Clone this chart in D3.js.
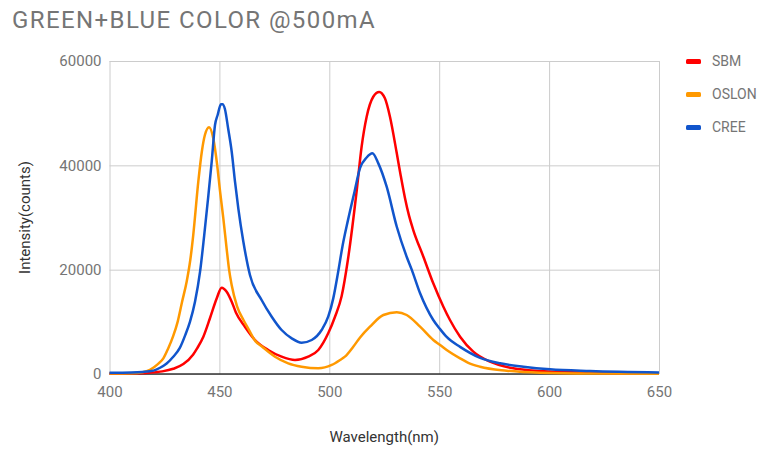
<!DOCTYPE html>
<html>
<head>
<meta charset="utf-8">
<script src="https://cdn.jsdelivr.net/npm/d3@7"></script>
<style>
  html, body { margin: 0; padding: 0; background: #fff; }
  svg { display: block; font-family: Roboto, "Noto Sans", sans-serif; }
</style>
</head>
<body>
<svg id="chart" width="764" height="450"></svg>
<script>
const title = "GREEN+BLUE COLOR @500mA";
const xTicks = [400, 450, 500, 550, 600, 650];
const yTicks = [0, 20000, 40000, 60000];
const seriesNames = ["SBM", "OSLON", "CREE"];
const seriesColors = ["#ff0000", "#ff9900", "#1155cc"];

// SBM (red)
const sbmNm  = [400, 410, 418, 424, 429, 433.6, 438, 440, 442.7, 445.7, 448.8, 451, 453.3, 455.6, 457.5, 461.6, 466.2, 472.2, 478.3, 484.4, 490.4, 495, 499.5, 502.6, 505.6, 508.5, 512.5, 514.7, 517, 520, 522.7, 525.3, 527.6, 530.7, 532.5, 534.4, 536.3, 538.2, 542.8, 547.3, 551.9, 554.9, 559.5, 565.5, 573.1, 583.7, 595.9, 618.6, 650];
const sbmVal = [100, 130, 250, 500, 1000, 1900, 3700, 5000, 7150, 10680, 14510, 16550, 15780, 13860, 11800, 9070, 6520, 4600, 3320, 2680, 3320, 4600, 7800, 10980, 14900, 22000, 35270, 43570, 49320, 53150, 54050, 52840, 49320, 42300, 38000, 33800, 30300, 27600, 22480, 17380, 12900, 10350, 7150, 4280, 2360, 1090, 575, 250, 120];

// OSLON (orange)
const oslonNm  = [400, 410, 415, 418.4, 422, 424.5, 426.6, 429, 431, 433, 435.1, 436.8, 438.1, 440.4, 442, 443.4, 445.3, 447.2, 449, 450.3, 451.8, 453.3, 454.4, 455.6, 458, 461, 463.5, 466, 469.5, 475.3, 481.3, 487.4, 495, 501.1, 504.9, 507.1, 510.9, 514, 518.5, 524.6, 530.7, 535.2, 541.3, 547.3, 550.4, 553.4, 559.5, 563, 568.6, 580.7, 595.9, 620, 650];
const oslonVal = [100, 150, 350, 800, 1900, 3000, 4800, 7300, 10000, 13800, 17700, 22000, 26640, 36860, 42610, 45810, 47290, 45170, 40000, 35000, 29800, 24000, 20000, 17000, 13000, 10300, 8430, 6500, 5230, 3320, 2050, 1400, 1090, 1730, 2680, 3320, 5230, 7000, 9070, 11310, 11820, 11310, 9070, 6520, 5560, 4600, 3000, 2200, 1400, 640, 250, 100, 60];

// CREE (blue)
const creeNm  = [400, 410, 415, 420, 423, 426, 429, 432, 434.5, 436.6, 438.9, 441.2, 443.1, 445, 446.5, 448, 449.2, 450.7, 451.4, 452.5, 454, 455.6, 457.1, 458.6, 460.9, 463.9, 469.2, 473.8, 478.3, 482.9, 487.4, 492, 496.5, 499.5, 501.8, 504, 506, 508.5, 511.5, 514, 517, 519.6, 522.3, 526.1, 530.7, 535.2, 537.5, 541.3, 547.3, 550.4, 553.4, 559.5, 568.6, 577.7, 588.3, 600.4, 618.6, 650];
const creeVal = [250, 300, 400, 650, 1200, 2000, 3300, 5000, 7500, 10000, 13860, 19610, 26640, 34310, 40700, 47730, 49650, 51690, 51700, 50800, 47000, 42610, 36860, 31760, 25360, 18980, 14180, 10980, 8430, 6840, 6000, 6520, 8430, 10980, 14500, 19500, 24500, 29500, 35000, 39500, 41500, 42300, 40380, 35900, 28230, 22480, 20000, 15470, 10350, 8600, 7100, 5200, 3100, 2050, 1400, 900, 575, 300];

const seriesNm = [sbmNm, oslonNm, creeNm];
const seriesVal = [sbmVal, oslonVal, creeVal];

const svg = d3.select("#chart");
const x = d3.scaleLinear().domain([400, 650]).range([109.5, 659]);
const y = d3.scaleLinear().domain([0, 60000]).range([374, 61]);

const gray = "#757575";

// title
svg.append("text")
  .attr("x", 12).attr("y", 28)
  .attr("font-size", 24).attr("letter-spacing", 1.4).attr("fill", gray)
  .text(title);

// gridlines via axes
const gx = svg.append("g").attr("transform", `translate(0,${y(0)})`)
  .call(d3.axisBottom(x).tickValues(xTicks).tickSize(-(y(0) - y(60000))).tickPadding(12).tickFormat(d3.format("d")));
gx.select(".domain").remove();
gx.selectAll(".tick line").attr("stroke", "#cccccc").attr("stroke-width", 1);
gx.selectAll(".tick text").attr("font-size", 15).attr("fill", gray).attr("font-family", "Roboto, sans-serif");

const gy = svg.append("g").attr("transform", `translate(${x(400)},0)`)
  .call(d3.axisLeft(y).tickValues(yTicks).tickSize(-(x(650) - x(400))).tickPadding(8).tickFormat(d3.format("d")));
gy.select(".domain").remove();
gy.selectAll(".tick line").attr("stroke", "#cccccc").attr("stroke-width", 1);
gy.selectAll(".tick text").attr("font-size", 15).attr("fill", gray).attr("font-family", "Roboto, sans-serif");

// baseline
svg.append("line")
  .attr("x1", x(400)).attr("x2", x(650))
  .attr("y1", y(0)).attr("y2", y(0))
  .attr("stroke", "#333").attr("stroke-width", 1.5);

// series lines
const line = d3.line().x(d => x(d[0])).y(d => y(d[1])).curve(d3.curveMonotoneX);
seriesNames.forEach((name, i) => {
  const pts = seriesNm[i].map((n, j) => [n, seriesVal[i][j]]);
  svg.append("path")
    .datum(pts)
    .attr("fill", "none")
    .attr("stroke", seriesColors[i])
    .attr("stroke-width", 2.5)
    .attr("stroke-linejoin", "round")
    .attr("d", line);
});

// axis titles
svg.append("text")
  .attr("x", (x(400) + x(650)) / 2).attr("y", 442)
  .attr("text-anchor", "middle").attr("font-size", 15).attr("fill", "#333")
  .text("Wavelength(nm)");
svg.append("text")
  .attr("transform", `translate(30,${(y(0) + y(60000)) / 2}) rotate(-90)`)
  .attr("text-anchor", "middle").attr("font-size", 15).attr("fill", "#333")
  .text("Intensity(counts)");

// legend
const legend = svg.append("g");
seriesNames.forEach((name, i) => {
  const ly = 61 + i * 33;
  legend.append("rect")
    .attr("x", 686).attr("y", ly - 2).attr("width", 15).attr("height", 5)
    .attr("rx", 1.5).attr("fill", seriesColors[i]);
  legend.append("text")
    .attr("x", 712).attr("y", ly + 5)
    .attr("font-size", 14).attr("fill", gray)
    .text(name);
});
</script>
</body>
</html>
